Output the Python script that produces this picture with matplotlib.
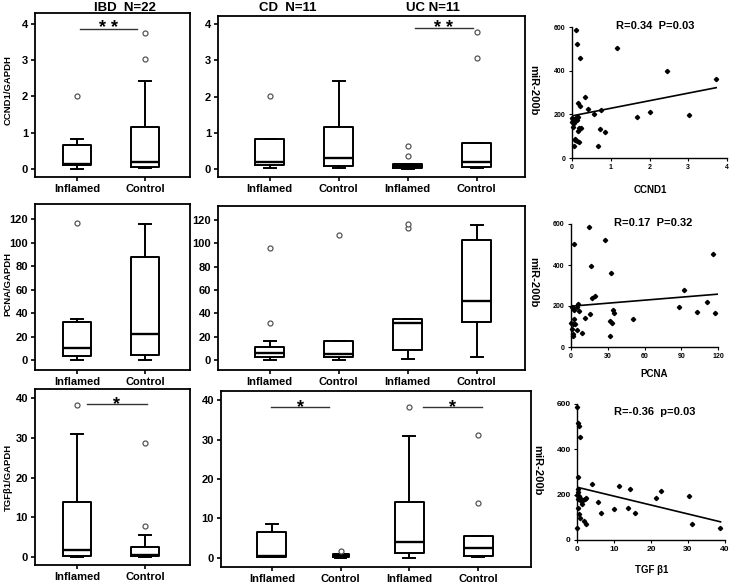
import matplotlib
matplotlib.use("Agg")
import matplotlib.pyplot as plt

plt.rcParams["font.family"] = ["Liberation Sans", "DejaVu Sans"]
plt.rcParams["font.weight"] = "bold"

W, H = 731, 584

group_labels = ["Inflamed", "Control"]

# Five numbers per box: whisker low, q1, median, q3, whisker high.
# Order: IBD inflamed, IBD control, CD inflamed, CD control, UC inflamed, UC control
ccnd1_box = [
    [0.0, 0.10, 0.15, 0.65, 0.82],
    [0.02, 0.05, 0.20, 1.15, 2.42],
    [0.02, 0.12, 0.18, 0.82, 0.82],
    [0.03, 0.07, 0.30, 1.15, 2.42],
    [0.0, 0.03, 0.08, 0.15, 0.15],
    [0.03, 0.05, 0.18, 0.72, 0.72],
]
ccnd1_fliers = [[2.0], [3.02, 3.75], [2.02], [], [0.37, 0.64], [3.05, 3.77]]

pcna_box = [
    [0, 3, 10, 32, 35],
    [0, 4, 22, 88, 116],
    [0, 3, 6, 11, 16],
    [0, 3, 5, 16, 16],
    [1, 9, 32, 35, 35],
    [3, 33, 51, 103, 116],
]
pcna_fliers = [[117], [], [32, 96], [107], [113, 117], []]

tgfb1_box = [
    [0.0, 0.3, 1.8, 13.8, 31.0],
    [0.0, 0.3, 0.6, 2.5, 5.5],
    [0.2, 0.3, 0.5, 6.6, 8.6],
    [0.0, 0.2, 0.5, 0.9, 0.9],
    [0.0, 1.3, 4.0, 14.2, 31.0],
    [0.3, 0.5, 2.5, 5.6, 5.6],
]
tgfb1_fliers = [[38.3], [7.8, 28.6], [], [1.8], [38.3], [13.8, 31.2]]

# miR-200b against each gene
ccnd1_x = [0.11, 0.13, 0.21, 1.17, 2.44, 3.72, 0.34, 0.15, 0.21, 0.40, 0.75, 0.58, 1.67,
           2.02, 3.01, 0.15, 0.10, 0.05, 0.08, 0.12, 0.02, 0.0, 0.04, 0.73, 0.86, 0.67,
           0.17, 0.23, 0.15, 0.07, 0.13, 0.19, 0.06, 0.02, 0.09, 0.03, 0.01, 0.14]
ccnd1_y = [588, 524, 456, 506, 398, 363, 281, 251, 239, 226, 220, 201, 187,
           211, 195, 190, 183, 178, 172, 176, 168, 165, 160, 132, 117, 53,
           137, 137, 122, 84, 80, 71, 53, 144, 88, 175, 185, 190]

pcna_x = [14.4, 2.7, 27.5, 16.3, 32.9, 115.6, 17.1, 19.9, 92.0, 87.9, 111.0, 102.9, 117.8,
          5.7, 4.9, 6.8, 0.8, 1.5, 2.3, 15.8, 11.7, 34.3, 34.9, 33.5, 50.6, 31.6, 31.6,
          2.7, 1.6, 3.0, 4.9, 9.0, 0.8, 1.4, 1.4, 0.3]
pcna_y = [584, 502, 520, 397, 360, 453, 237, 248, 278, 193, 221, 172, 167,
          208, 196, 177, 196, 188, 180, 160, 142, 180, 168, 118, 136, 126, 52,
          136, 114, 110, 82, 70, 90, 65, 54, 116]

tgfb1_x = [0.0, 0.3, 0.45, 0.7, 0.3, 4.1, 11.4, 14.3, 22.8, 21.3, 30.3, 5.7, 9.9, 13.9,
           6.6, 15.6, 31.2, 38.6, 1.8, 2.5, 0.2, 0.4, 0.6, 0.8, 1.2, 1.6, 2.1, 2.5, 1.4,
           0.5, 0.3, 0.7, 0.0, 0.1, 0.2]
tgfb1_y = [587, 518, 503, 454, 279, 248, 237, 227, 217, 186, 195, 168, 137, 139,
           119, 119, 72, 53, 86, 72, 225, 210, 195, 185, 170, 175, 180, 185, 160,
           115, 142, 97, 53, 200, 180]

# regression lines: intercept, slope, x end
fit_ccnd1 = [193, 34.7, 3.72]
fit_pcna = [199, 0.49, 120]
fit_tgfb1 = [233, -3.94, 38.8]


def rect(left, top, right, bottom):
    return [left / W, 1 - bottom / H, (right - left) / W, (bottom - top) / H]


def box_stats(box, fliers, idx):
    out = []
    for i in idx:
        lo, q1, med, q3, hi = box[i]
        out.append(dict(whislo=lo, q1=q1, med=med, q3=q3, whishi=hi, fliers=fliers[i]))
    return out


def draw_boxes(ax, stats, widths, xlim, ylim, yticks, n):
    ax.bxp(stats, positions=list(range(1, n + 1)), widths=widths, capwidths=0.17,
           boxprops=dict(color="black", lw=1.4),
           medianprops=dict(color="black", lw=1.7),
           whiskerprops=dict(color="black", lw=1.4),
           capprops=dict(color="black", lw=1.4),
           flierprops=dict(marker="o", ms=3.6, mfc="white", mec="#555555", mew=0.9, ls="none"),
           manage_ticks=False)
    ax.set_xlim(*xlim)
    ax.set_ylim(*ylim)
    ax.set_yticks(yticks)
    ax.set_xticks(list(range(1, n + 1)))
    ax.set_xticklabels(group_labels * (n // 2))
    ax.tick_params(direction="out", length=3, width=1.2, labelsize=8, pad=2, colors="black")
    for s in ax.spines.values():
        s.set_linewidth(1.3)


def sig(ax, x1, x2, y, label):
    ax.plot([x1, x2], [y, y], color="#333333", lw=1.0)
    ax.text((x1 + x2) / 2, y, label, ha="center", va="center", fontsize=13, fontweight="bold")


def draw_scatter(ax, x, y, fit, xlim, xticks, size):
    ax.plot(x, y, ls="none", marker="D", ms=2.2, color="black", clip_on=False)
    b, m, xe = fit
    ax.plot([0, xe], [b, b + m * xe], color="black", lw=1.2)
    ax.set_xlim(*xlim)
    ax.set_ylim(0, 600)
    ax.set_xticks(xticks)
    ax.set_yticks([0, 200, 400, 600])
    ax.spines["top"].set_visible(False)
    ax.spines["right"].set_visible(False)
    for s in ("left", "bottom"):
        ax.spines[s].set_linewidth(1.0)
    ax.tick_params(direction="out", length=2.5, width=0.8, labelsize=size, pad=2)


fig = plt.figure(figsize=(W / 100, H / 100), dpi=100)
fig.patch.set_facecolor("white")

ibd = [0, 1]
cduc = [2, 3, 4, 5]
p1_xlim = (0.38, 2.66)
p2_xlim = (0.25, 4.70)

# ---- row 1: CCND1
ax = fig.add_axes(rect(35, 13, 190, 177))
draw_boxes(ax, box_stats(ccnd1_box, ccnd1_fliers, ibd), 0.42, p1_xlim, (-0.22, 4.3), [0, 1, 2, 3, 4], 2)
sig(ax, 1.04, 1.88, 3.87, "* *")
ax = fig.add_axes(rect(218, 16, 525, 177))
draw_boxes(ax, box_stats(ccnd1_box, ccnd1_fliers, cduc), 0.42, p2_xlim, (-0.22, 4.22), [0, 1, 2, 3, 4], 4)
sig(ax, 3.10, 3.94, 3.88, "* *")
ax = fig.add_axes(rect(572, 27, 727, 158))
draw_scatter(ax, ccnd1_x, ccnd1_y, fit_ccnd1, (0, 4), [0, 1, 2, 3, 4], 5)

# ---- row 2: PCNA
ax = fig.add_axes(rect(35, 204, 190, 370))
draw_boxes(ax, box_stats(pcna_box, pcna_fliers, ibd), 0.42, p1_xlim, (-8.5, 132.8), range(0, 121, 20), 2)
ax = fig.add_axes(rect(218, 206, 525, 370))
draw_boxes(ax, box_stats(pcna_box, pcna_fliers, cduc), 0.42, p2_xlim, (-8.5, 132), range(0, 121, 20), 4)
ax = fig.add_axes(rect(571, 224, 718, 347))
draw_scatter(ax, pcna_x, pcna_y, fit_pcna, (0, 120), [0, 30, 60, 90, 120], 5)

# ---- row 3: TGFb1
ax = fig.add_axes(rect(35, 389, 190, 565))
draw_boxes(ax, box_stats(tgfb1_box, tgfb1_fliers, ibd), 0.42, p1_xlim, (-2.0, 42.3), [0, 10, 20, 30, 40], 2)
sig(ax, 1.14, 2.03, 38.5, "*")
ax = fig.add_axes(rect(221, 391, 531, 567))
draw_boxes(ax, box_stats(tgfb1_box, tgfb1_fliers, cduc), [0.42, 0.23, 0.42, 0.42], (0.26, 4.77),
           (-2.3, 42.3), [0, 10, 20, 30, 40], 4)
sig(ax, 0.99, 1.83, 38.2, "*")
sig(ax, 3.20, 4.06, 38.2, "*")
ax = fig.add_axes(rect(577, 404, 725, 540))
draw_scatter(ax, tgfb1_x, tgfb1_y, fit_tgfb1, (0, 40), [0, 10, 20, 30, 40], 6)


# ---- titles and labels placed on the figure
def ftext(x, y, s, **kw):
    fig.text(x / W, 1 - y / H, s, ha="center", va="center", **kw)


ftext(125, 8, "IBD  N=22", fontsize=9.5)
ftext(288, 8, "CD  N=11", fontsize=9.5)
ftext(433, 8, "UC N=11", fontsize=9.5)

for yy, s in ((90, "CCND1/GAPDH"), (284, "PCNA/GAPDH"), (477, "TGFβ1/GAPDH")):
    ftext(8, yy, s, fontsize=6.8, rotation=90)

ftext(655, 26, "R=0.34  P=0.03", fontsize=8)
ftext(653, 223, "R=0.17  P=0.32", fontsize=8)
ftext(655, 412, "R=-0.36  p=0.03", fontsize=8)

for yy, xx in ((90, 533), (282, 533), (470, 537)):
    ftext(xx, yy, "miR-200b", fontsize=8, rotation=-90)

ftext(650, 190, "CCND1", fontsize=7)
ftext(654, 374, "PCNA", fontsize=7)
ftext(652, 570, "TGF β1", fontsize=7)

fig.savefig("out.png", dpi=100, facecolor="white")
